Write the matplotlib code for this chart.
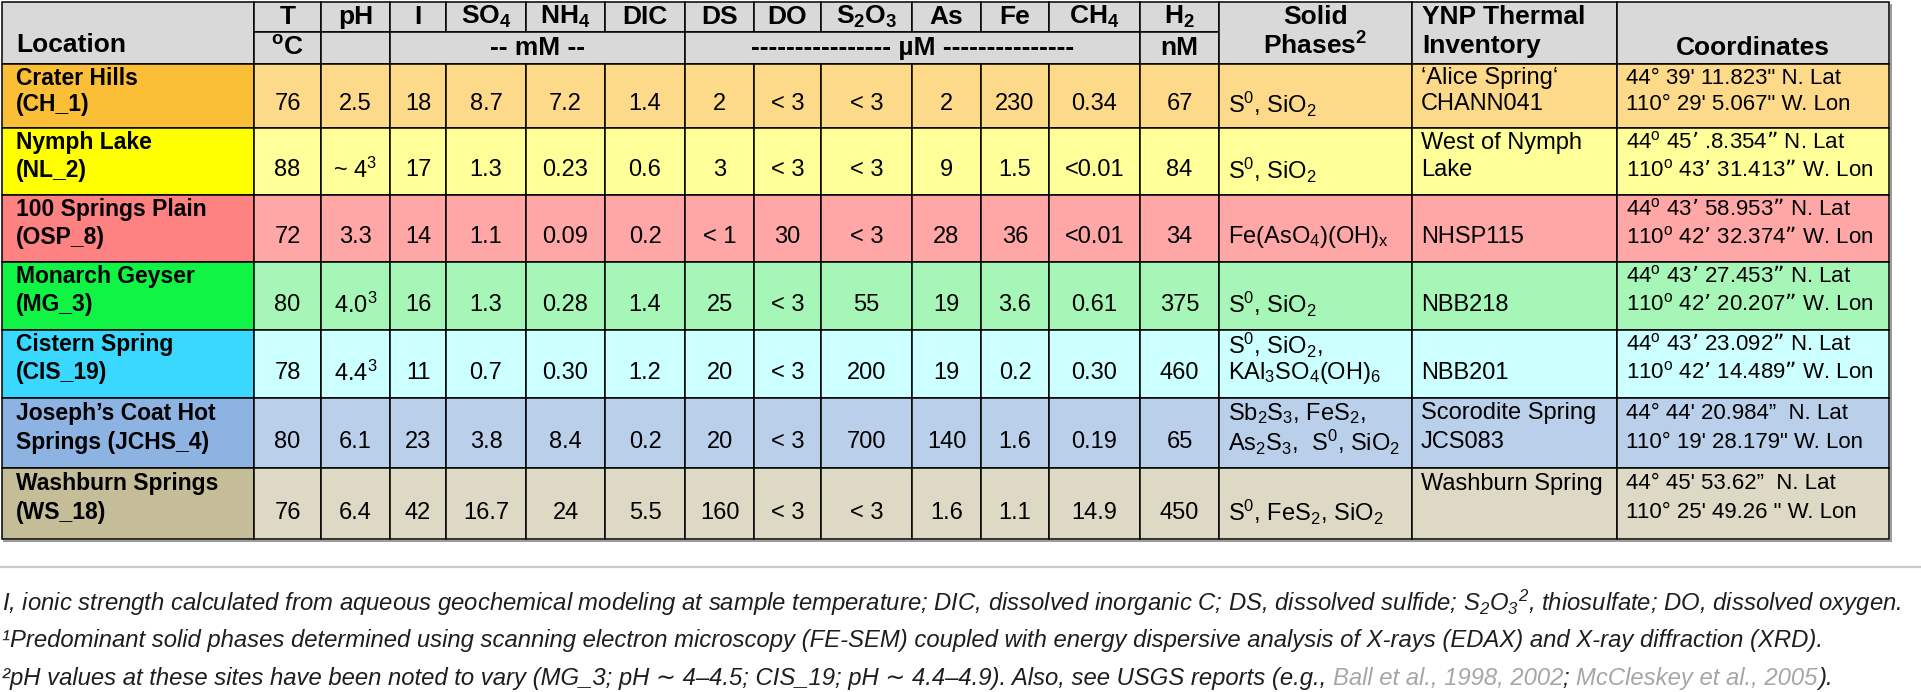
import matplotlib.pyplot as plt
from matplotlib.patches import Rectangle

plt.rcParams['mathtext.default'] = 'regular'

# table data, one list per column
locations = ['Crater Hills\n(CH_1)', 'Nymph Lake\n(NL_2)', '100 Springs Plain\n(OSP_8)',
             'Monarch Geyser\n(MG_3)', 'Cistern Spring\n(CIS_19)',
             'Joseph’s Coat Hot\nSprings (JCHS_4)', 'Washburn Springs\n(WS_18)']
temp = ['76', '88', '72', '80', '78', '80', '76']
ph = ['2.5', '~ 4$^3$', '3.3', '4.0$^3$', '4.4$^3$', '6.1', '6.4']
ionic = ['18', '17', '14', '16', '11', '23', '42']
so4 = ['8.7', '1.3', '1.1', '1.3', '0.7', '3.8', '16.7']
nh4 = ['7.2', '0.23', '0.09', '0.28', '0.30', '8.4', '24']
dic = ['1.4', '0.6', '0.2', '1.4', '1.2', '0.2', '5.5']
ds = ['2', '3', '< 1', '25', '20', '20', '160']
do = ['< 3', '< 3', '30', '< 3', '< 3', '< 3', '< 3']
s2o3 = ['< 3', '< 3', '< 3', '55', '200', '700', '< 3']
arsenic = ['2', '9', '28', '19', '19', '140', '1.6']
iron = ['230', '1.5', '36', '3.6', '0.2', '1.6', '1.1']
ch4 = ['0.34', '<0.01', '<0.01', '0.61', '0.30', '0.19', '14.9']
h2 = ['67', '84', '34', '375', '460', '65', '450']
solids = ['\nS$^0$, SiO$_2$', '\nS$^0$, SiO$_2$', '\nFe(AsO$_4$)(OH)$_x$', '\nS$^0$, SiO$_2$',
          'S$^0$, SiO$_2$,\nKAl$_3$SO$_4$(OH)$_6$', 'Sb$_2$S$_3$, FeS$_2$,\nAs$_2$S$_3$,  S$^0$, SiO$_2$',
          '\nS$^0$, FeS$_2$, SiO$_2$']
inventory = ['‘Alice Spring‘\nCHANN041', 'West of Nymph\nLake', '\nNHSP115', '\nNBB218',
             '\nNBB201', 'Scorodite Spring\nJCS083', 'Washburn Spring\n']
coords = ['44° 39\' 11.823" N. Lat\n110° 29\' 5.067" W. Lon',
          '44$^o$ 45’ .8.354” N. Lat\n110$^o$ 43’ 31.413” W. Lon',
          '44$^o$ 43’ 58.953” N. Lat\n110$^o$ 42’ 32.374” W. Lon',
          '44$^o$ 43’ 27.453” N. Lat\n110$^o$ 42’ 20.207” W. Lon',
          '44$^o$ 43’ 23.092” N. Lat\n110$^o$ 42’ 14.489” W. Lon',
          '44° 44\' 20.984”  N. Lat\n110° 19\' 28.179" W. Lon',
          '44° 45\' 53.62”  N. Lat\n110° 25\' 49.26 " W. Lon']

params = ['T', 'pH', 'I', 'SO$_4$', 'NH$_4$', 'DIC', 'DS', 'DO', 'S$_2$O$_3$', 'As', 'Fe', 'CH$_4$', 'H$_2$']
# unit label, first column, last column
units = [('$^o$C', 1, 1), ('', 2, 2), ('-- mM --', 3, 6),
         ('---------------- µM ---------------', 7, 12), ('nM', 13, 13)]

name_colors = ['#fbbe37', '#ffff00', '#ff8282', '#10f545', '#3ad8ff', '#8db3e2', '#c4bd97']
cell_colors = ['#fdd98a', '#ffff99', '#ffa6a6', '#a6f7b7', '#ccffff', '#b9cfea', '#ddd9c4']
header_color = '#d9d9d9'

footnote1 = ('I, ionic strength calculated from aqueous geochemical modeling at sample temperature; '
             'DIC, dissolved inorganic C; DS, dissolved sulfide; S$_2$O$_3$$^2$, thiosulfate; DO, dissolved oxygen.')
footnote2 = ('¹Predominant solid phases determined using scanning electron microscopy (FE-SEM) coupled '
             'with energy dispersive analysis of X-rays (EDAX) and X-ray diffraction (XRD).')
footnote3 = [('²pH values at these sites have been noted to vary (MG_3; pH ∼ 4–4.5; CIS_19; pH ∼ 4.4–4.9). '
              'Also, see USGS reports (e.g., ', '#1e1e1e'),
             ('Ball et al., 1998, 2002', '#a6a6a6'), ('; ', '#1e1e1e'),
             ('McCleskey et al., 2005', '#a6a6a6'), (').', '#1e1e1e')]

# layout in pixels
xs = [2, 254, 321, 390, 446, 526, 605, 685, 754, 821, 912, 981, 1049, 1140, 1219, 1412, 1617, 1889]
ys = [2, 32, 64, 128, 195, 262, 330, 398, 468, 539]

fig = plt.figure(figsize=(19.21, 6.92), dpi=100)
ax = fig.add_axes([0, 0, 1, 1])
ax.set_xlim(0, 1921)
ax.set_ylim(692, 0)
ax.axis('off')

lw = 1.1
head = dict(family='Liberation Sans', fontweight='bold', fontsize=19, color='black')
bold = dict(family='Liberation Sans', fontweight='bold', fontsize=16.5, color='black')
reg = dict(family='Liberation Sans', fontsize=17, color='black')
small = dict(family='Liberation Sans', fontsize=16, color='black')


def cell(x0, x1, y0, y1, color):
    ax.add_patch(Rectangle((x0, y0), x1 - x0, y1 - y0, facecolor=color,
                           edgecolor='black', lw=lw, zorder=1))


# shadow of the table
ax.plot([xs[-1] + 2, xs[-1] + 2], [ys[0] + 3, ys[-1] + 2], color='#9a9a9a', lw=1.4, zorder=0)
ax.plot([xs[0] + 2, xs[-1] + 2], [ys[-1] + 2, ys[-1] + 2], color='#9a9a9a', lw=1.4, zorder=0)

# header
cell(xs[0], xs[1], ys[0], ys[2], header_color)
ax.text(xs[0] + 14, 45, 'Location', ha='left', va='center', **head)
for j, p in enumerate(params):
    c = j + 1
    cell(xs[c], xs[c + 1], ys[0], ys[1], header_color)
    ax.text((xs[c] + xs[c + 1]) / 2, 17, p, ha='center', va='center', **head)
for u, c0, c1 in units:
    cell(xs[c0], xs[c1 + 1], ys[1], ys[2], header_color)
    ax.text((xs[c0] + xs[c1 + 1]) / 2, 48, u, ha='center', va='center', **head)
cell(xs[14], xs[15], ys[0], ys[2], header_color)
ax.text((xs[14] + xs[15]) / 2, 17, 'Solid', ha='center', va='center', **head)
ax.text((xs[14] + xs[15]) / 2, 46, 'Phases$^2$', ha='center', va='center', **head)
cell(xs[15], xs[16], ys[0], ys[2], header_color)
ax.text(xs[15] + 10, 17, 'YNP Thermal', ha='left', va='center', **head)
ax.text(xs[15] + 10, 46, 'Inventory', ha='left', va='center', **head)
cell(xs[16], xs[17], ys[0], ys[2], header_color)
ax.text((xs[16] + xs[17]) / 2, 48, 'Coordinates', ha='center', va='center', **head)

# body
values = [temp, ph, ionic, so4, nh4, dic, ds, do, s2o3, arsenic, iron, ch4, h2]
for i in range(len(locations)):
    y0, y1 = ys[i + 2], ys[i + 3]
    h = y1 - y0
    line1 = y0 + 0.22 * h
    line2 = y0 + 0.63 * h
    cell(xs[0], xs[1], y0, y1, name_colors[i])
    for k, t in enumerate(locations[i].split('\n')):
        ax.text(xs[0] + 14, [line1, line2][k], t, ha='left', va='center', **bold)
    for j, col in enumerate(values):
        c = j + 1
        cell(xs[c], xs[c + 1], y0, y1, cell_colors[i])
        ax.text((xs[c] + xs[c + 1]) / 2, line2, col[i], ha='center', va='center', **reg)
    for c, col, style in [(14, solids, reg), (15, inventory, reg), (16, coords, small)]:
        cell(xs[c], xs[c + 1], y0, y1, cell_colors[i])
        for k, t in enumerate(col[i].split('\n')):
            if t:
                ax.text(xs[c] + 9, [line1, line2][k], t, ha='left', va='center', **style)

# separator and footnotes
ax.plot([0, 1921], [567, 567], color='#c8c8c8', lw=1.6)
foot = dict(family=['Liberation Sans', 'DejaVu Sans'], style='italic', fontsize=17.2, color='#1e1e1e')
ax.text(2, 603, footnote1, ha='left', va='center', **foot)
ax.text(2, 641, footnote2, ha='left', va='center', **foot)
prev = None
for seg, colr in footnote3:
    kw = dict(foot)
    kw['color'] = colr
    if prev is None:
        prev = ax.text(2, 679, seg, ha='left', va='center', **kw)
    else:
        prev = ax.annotate(seg, xy=(1, 0.5), xycoords=prev, ha='left', va='center', **kw)

fig.savefig('out.png', dpi=100)
